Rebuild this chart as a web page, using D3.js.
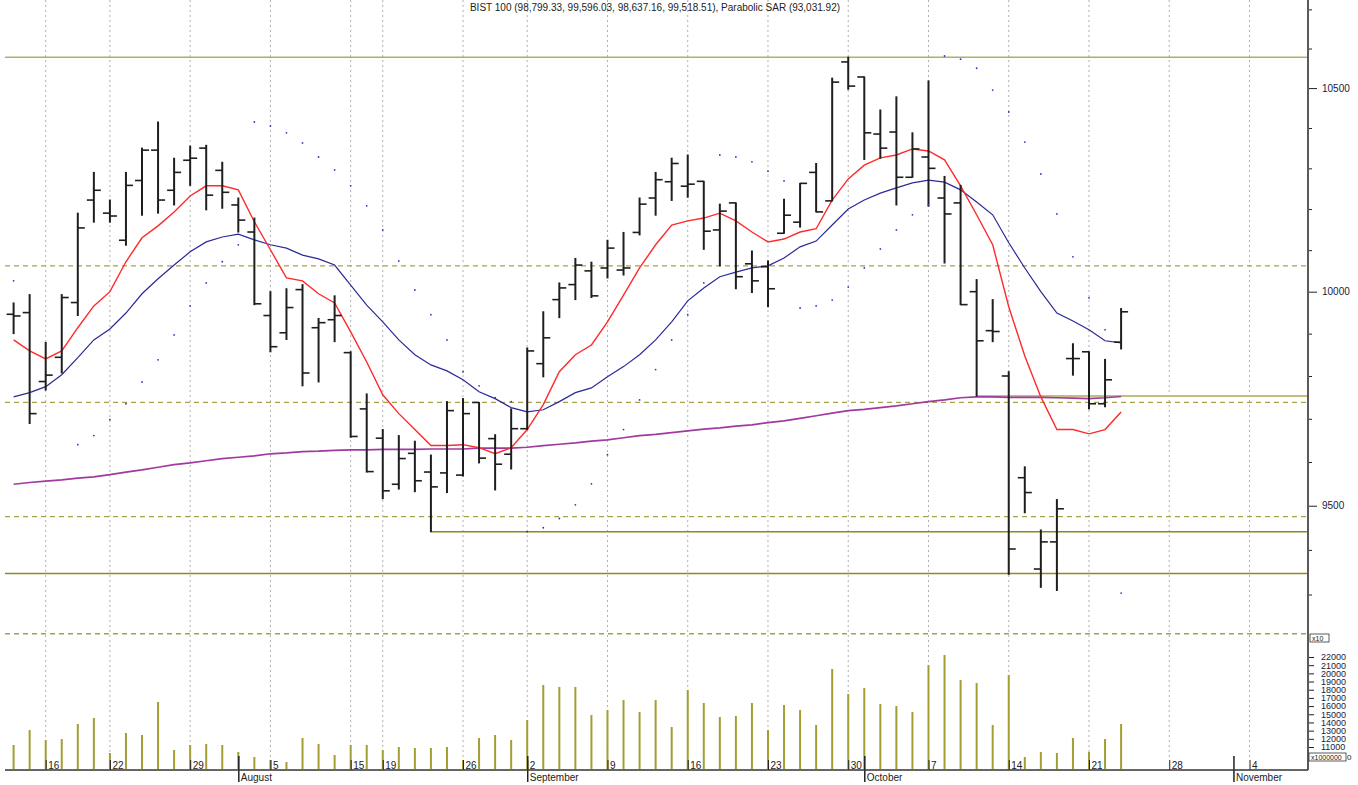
<!DOCTYPE html>
<html lang="en">
<head>
<meta charset="UTF-8">
<title>BIST 100</title>
<script src="https://d3js.org/d3.v7.min.js"></script>
<style>
    * { margin: 0; padding: 0; box-sizing: border-box; }
    html, body { width: 1358px; height: 785px; overflow: hidden; background: #fff; }
    svg { display: block; font-family: "Liberation Sans", Arial, sans-serif; }
</style>
</head>
<body>
<svg id="chart" width="1358" height="785"></svg>
<script>
// trading days (future days after Oct 23 have no bars)
const days = [
    "2019-07-11", "2019-07-12", "2019-07-16", "2019-07-17", "2019-07-18", "2019-07-19",
    "2019-07-22", "2019-07-23", "2019-07-24", "2019-07-25", "2019-07-26",
    "2019-07-29", "2019-07-30", "2019-07-31", "2019-08-01", "2019-08-02",
    "2019-08-05", "2019-08-06", "2019-08-07", "2019-08-08", "2019-08-09",
    "2019-08-15", "2019-08-16",
    "2019-08-19", "2019-08-20", "2019-08-21", "2019-08-22", "2019-08-23",
    "2019-08-26", "2019-08-27", "2019-08-28", "2019-08-29",
    "2019-09-02", "2019-09-03", "2019-09-04", "2019-09-05", "2019-09-06",
    "2019-09-09", "2019-09-10", "2019-09-11", "2019-09-12", "2019-09-13",
    "2019-09-16", "2019-09-17", "2019-09-18", "2019-09-19", "2019-09-20",
    "2019-09-23", "2019-09-24", "2019-09-25", "2019-09-26", "2019-09-27",
    "2019-09-30", "2019-10-01", "2019-10-02", "2019-10-03", "2019-10-04",
    "2019-10-07", "2019-10-08", "2019-10-09", "2019-10-10", "2019-10-11",
    "2019-10-14", "2019-10-15", "2019-10-16", "2019-10-17", "2019-10-18",
    "2019-10-21", "2019-10-22", "2019-10-23", "2019-10-24", "2019-10-25",
    "2019-10-28", "2019-10-29", "2019-10-30", "2019-10-31", "2019-11-01",
    "2019-11-04"
]
const barDays = days.slice(0, 70)

const opens = [9946, 9950, 9787, 9844, 9974, 10222, 10190, 10124, 10270, 10345,
    10246, 10320, 10350, 10295, 10210, 10144, 9943, 9902, 10005, 9914,
    9933, 9855, 9723, 9655, 9549, 9620, 9577, 9575, 9570, 9738,
    9654, 9618, 9677, 9829, 9981, 10017, 10050, 10057, 10052, 10143,
    10227, 10267, 10256, 10268, 10149, 10215, 10067, 10060, 10141, 10168,
    10290, 10220, 10566, 10528, 10385, 10390, 10278, 10328, 10227, 10215,
    10000, 9907, 9800, 9564, 9357, 9418, 9841, 9857, 9735, 9879.9]
const highs = [9973, 9993, 9879, 9993, 10190, 10290, 10222, 10290, 10350, 10415,
    10325, 10355, 10357, 10315, 10227, 10178, 10000, 10007, 10017, 9936,
    9990, 9857, 9758, 9675, 9661, 9648, 9616, 9740, 9747, 9738,
    9663, 9723, 9866, 9952, 10021, 10080, 10071, 10124, 10143, 10227,
    10290, 10325, 10333, 10268, 10212, 10215, 10098, 10074, 10224, 10263,
    10312, 10525, 10578, 10528, 10445, 10478, 10388, 10518, 10280, 10258,
    10029, 9981, 9810, 9589, 9445, 9514, 9876, 9857, 9839, 9959.6]
const lows = [9900, 9689, 9767, 9807, 9943, 10168, 10168, 10112, 10185, 10190,
    10210, 10258, 10198, 10202, 10144, 9969, 9857, 9886, 9777, 9786,
    9881, 9657, 9577, 9516, 9538, 9532, 9441, 9530, 9568, 9598,
    9536, 9584, 9675, 9798, 9938, 9981, 9986, 10033, 10040, 10137,
    10185, 10221, 10229, 10102, 10062, 10007, 9998, 9964, 10141, 10156,
    10193, 10220, 10497, 10322, 10325, 10210, 10278, 10207, 10069, 9969,
    9753, 9881, 9345, 9484, 9316, 9309, 9802, 9723, 9728, 9863.7]
const closes = [9942, 9712, 9802, 9986, 10154, 10246, 10183, 10258, 10345, 10222,
    10290, 10325, 10234, 10241, 10173, 9971, 9869, 9962, 9807, 9926,
    9943, 9659, 9578, 9534, 9608, 9557, 9543, 9719, 9712, 9609,
    9595, 9677, 9859, 9890, 10009, 10064, 9990, 10105, 10057, 10212,
    10272, 10312, 10261, 10146, 10195, 10036, 10026, 10007, 10185, 10263,
    10193, 10515, 10505, 10388, 10350, 10278, 10348, 10300, 10188, 9969,
    9883, 9905, 9402, 9530, 9418, 9493, 9841, 9735, 9791, 9951.9]

// moving averages
const maFast = [9885, 9859, 9840, 9859, 9914, 9966, 10000, 10072, 10130, 10159,
    10193, 10232, 10257, 10257, 10247, 10169, 10101, 10033, 10026, 9995,
    9973, 9904, 9833, 9756, 9712, 9675, 9638, 9638, 9640, 9633,
    9619, 9633, 9675, 9733, 9810, 9850, 9873, 9928, 9992, 10057,
    10113, 10161, 10171, 10178, 10190, 10171, 10144, 10120, 10127, 10144,
    10152, 10222, 10274, 10308, 10326, 10333, 10348, 10343, 10321, 10257,
    10186, 10113, 9964, 9847, 9751, 9675, 9675, 9665, 9675, 9716]
const maMid = [9751, 9761, 9775, 9803, 9843, 9885, 9911, 9949, 9995, 10031,
    10064, 10096, 10120, 10132, 10139, 10125, 10113, 10105, 10088, 10079,
    10064, 10016, 9968, 9928, 9885, 9850, 9826, 9812, 9791, 9763,
    9747, 9726, 9716, 9721, 9740, 9761, 9772, 9798, 9822, 9850,
    9885, 9928, 9978, 10009, 10036, 10047, 10057, 10062, 10081, 10108,
    10122, 10161, 10200, 10222, 10239, 10252, 10264, 10271, 10266, 10247,
    10217, 10186, 10118, 10057, 10000, 9949, 9930, 9909, 9883, 9878]
const maSlow = [9549, 9553, 9556, 9559, 9563, 9566, 9571, 9577, 9582, 9588,
    9594, 9598, 9603, 9608, 9611, 9614, 9619, 9621, 9624, 9625,
    9627, 9628, 9628, 9629, 9629, 9629, 9630, 9630, 9630, 9632,
    9632, 9632, 9634, 9638, 9641, 9644, 9648, 9651, 9656, 9661,
    9664, 9668, 9672, 9676, 9679, 9683, 9686, 9691, 9695, 9701,
    9707, 9713, 9719, 9722, 9726, 9730, 9735, 9740, 9744, 9749,
    9751, 9751, 9750, 9750, 9750, 9749, 9748, 9747, 9749, 9752]
const sar = [10026, null, null, null, 9640, 9661, 9698, 9735, 9786, 9838,
    9897, 9966, 10021, 10072, 10113, 10415, 10405, 10388, 10363, 10328,
    10296, 10257, 10208, 10149, 10074, 10004, 9945, 9885, 9810, 9777,
    9749, 9740, 9441, 9450, 9471, 9502, 9550, 9617, 9675, 9744,
    9815, 9885, 9945, 10021, 10333, 10328, 10316, 10293, 10269, 9961,
    9966, 9980, 10011, 10057, 10103, 10149, 10186, 10210, 10581, 10573,
    10550, 10495, 10440, 10365, 10286, 10188, 10084, 9985, 9909, 9303.2]

// volume, in units of the right lower axis
const volumes = [11244, 13078, 11856, 11978, 13811, 14544, 10266, 12711, 12467, 16500,
    10633, 11244, 11367, 11244, 10389, 9778, 9411, 9167, 12100, 11367,
    10022, 11244, 11244, 10633, 11000, 10878, 10878, 11000, 9411, 12100,
    12467, 11856, 14300, 18578, 18333, 18333, 14911, 15522, 16744, 15278,
    16744, 13444, 17967, 16378, 14667, 14789, 16378, 13078, 16133, 15522,
    13689, 20533, 17478, 18211, 16256, 16011, 15278, 21022, 22244, 19189,
    18822, 13689, 19800, 9778, 10389, 10266, 12100, 10389, 11978, 13811]

// horizontal lines drawn on the chart
const solidLevels = [10578, 9347, 9441]
const solidStarts = [null, null, "2019-08-22"]
const lightLevels = [9753]
const lightStarts = ["2019-10-10"]
const dashedLevels = [10062, 9738, 9475, 9213]

const weekTicks = ["2019-07-16", "2019-07-22", "2019-07-29", "2019-08-05", "2019-08-15",
    "2019-08-19", "2019-08-26", "2019-09-02", "2019-09-09", "2019-09-16", "2019-09-23",
    "2019-09-30", "2019-10-07", "2019-10-14", "2019-10-21", "2019-10-28", "2019-11-04"]
const monthTicks = ["2019-08-01", "2019-09-02", "2019-10-01", "2019-11-01"]
const monthNames = ["August", "September", "October", "November"]
const priceTicks = d3.range(9300, 10800, 100)
const volumeTicks = d3.range(11000, 23000, 1000)

const title = "BIST 100 (98,799.33, 99,596.03, 98,637.16, 99,518.51), Parabolic SAR (93,031.92)"

// layout
const left = 5, right = 1308
const priceTop = 0, priceBottom = 636, volBottom = 769, axisY = 770

const svg = d3.select("#chart")
const x = d3.scalePoint().domain(days).range([13.6, 1249.5])
const y = d3.scaleLog().domain([9208, 10724]).range([priceBottom, priceTop])
const yv = d3.scaleLinear().domain([11000, 22000]).range([747, 657])

const defs = svg.append("defs")
defs.append("clipPath").attr("id", "clipPrice").append("rect")
    .attr("x", left).attr("y", priceTop).attr("width", right - left).attr("height", priceBottom - priceTop)
defs.append("clipPath").attr("id", "clipVol").append("rect")
    .attr("x", left).attr("y", priceBottom).attr("width", right - left).attr("height", volBottom - priceBottom)

// vertical grid at week ticks
svg.append("g").selectAll("line")
    .data(weekTicks)
    .join("line")
    .attr("x1", d => x(d)).attr("x2", d => x(d))
    .attr("y1", 0).attr("y2", 760)
    .attr("stroke", "#b0b0b0")
    .attr("stroke-dasharray", "2,3")

const price = svg.append("g").attr("clip-path", "url(#clipPrice)")

// horizontal level lines
price.selectAll("line.dash")
    .data(dashedLevels)
    .join("line")
    .attr("class", "dash")
    .attr("x1", left).attr("x2", right)
    .attr("y1", d => y(d)).attr("y2", d => y(d))
    .attr("stroke", "#a6a24a").attr("stroke-width", 1.3)
    .attr("stroke-dasharray", "5,4")
price.selectAll("line.solid")
    .data(solidLevels)
    .join("line")
    .attr("class", "solid")
    .attr("x1", (d, i) => solidStarts[i] ? x(solidStarts[i]) : left)
    .attr("x2", right)
    .attr("y1", d => y(d)).attr("y2", d => y(d))
    .attr("stroke", (d, i) => i === 0 ? "#b3ae66" : "#8e8a1c")
    .attr("stroke-width", 1.5)
price.selectAll("line.light")
    .data(lightLevels)
    .join("line")
    .attr("class", "light")
    .attr("x1", (d, i) => x(lightStarts[i]))
    .attr("x2", right)
    .attr("y1", d => y(d)).attr("y2", d => y(d))
    .attr("stroke", "#c2bd80")
    .attr("stroke-width", 2)

// lines
const lineOf = d3.line()
    .x((d, i) => x(barDays[i]))
    .y(d => y(d))
price.append("path").datum(maSlow)
    .attr("d", lineOf)
    .attr("fill", "none").attr("stroke", "#a03aa0").attr("stroke-width", 1.7)
price.append("path").datum(maMid)
    .attr("d", lineOf)
    .attr("fill", "none").attr("stroke", "#2a2a98").attr("stroke-width", 1.2)
price.append("path").datum(maFast)
    .attr("d", lineOf)
    .attr("fill", "none").attr("stroke", "#ff2a2a").attr("stroke-width", 1.4)

// OHLC bars
const bars = barDays.map((d, i) => ({ d, o: opens[i], h: highs[i], l: lows[i], c: closes[i] }))
const barColor = "#1e1e1e"
price.selectAll("line.hl")
    .data(bars)
    .join("line")
    .attr("class", "hl")
    .attr("x1", d => x(d.d)).attr("x2", d => x(d.d))
    .attr("y1", d => y(d.h) - 0.5).attr("y2", d => y(d.l) + 0.5)
    .attr("stroke", barColor).attr("stroke-width", 2)
price.selectAll("line.op")
    .data(bars)
    .join("line")
    .attr("class", "op")
    .attr("x1", d => x(d.d) - 7).attr("x2", d => x(d.d))
    .attr("y1", d => y(d.o)).attr("y2", d => y(d.o))
    .attr("stroke", barColor).attr("stroke-width", 1.6)
price.selectAll("line.cl")
    .data(bars)
    .join("line")
    .attr("class", "cl")
    .attr("x1", d => x(d.d)).attr("x2", d => x(d.d) + 7)
    .attr("y1", d => y(d.c)).attr("y2", d => y(d.c))
    .attr("stroke", barColor).attr("stroke-width", 1.6)

// parabolic SAR
price.selectAll("circle.sar")
    .data(sar.map((v, i) => ({ v, d: barDays[i] })).filter(p => p.v !== null))
    .join("circle")
    .attr("class", "sar")
    .attr("cx", p => x(p.d)).attr("cy", p => y(p.v))
    .attr("r", 0.9)
    .attr("fill", "#3434c8")

// volume
const vol = svg.append("g").attr("clip-path", "url(#clipVol)")
vol.selectAll("line")
    .data(volumes)
    .join("line")
    .attr("x1", (v, i) => x(barDays[i])).attr("x2", (v, i) => x(barDays[i]))
    .attr("y1", volBottom).attr("y2", v => yv(v))
    .attr("stroke", "#a29e34").attr("stroke-width", 2)

// title
svg.append("text")
    .attr("x", 655).attr("y", 11)
    .attr("text-anchor", "middle")
    .attr("font-size", 10)
    .attr("fill", "#222")
    .text(title)

// right price axis
const pAxis = svg.append("g")
    .attr("transform", `translate(${right},0)`)
    .call(d3.axisRight(y).tickValues(priceTicks).tickFormat(d => d % 500 === 0 ? d : "").tickSizeOuter(0))
pAxis.select(".domain").remove()
pAxis.selectAll(".tick line")
    .attr("x2", d => d % 500 === 0 ? 9 : 4)
    .attr("stroke", "#222")
pAxis.selectAll(".tick text")
    .attr("x", 14)
    .attr("font-size", 10)
    .attr("font-family", "Liberation Sans, Arial, sans-serif")
    .attr("fill", "#1a1a3a")

// right volume axis
const vAxis = svg.append("g")
    .attr("transform", `translate(${right},0)`)
    .call(d3.axisRight(yv).tickValues(volumeTicks).tickFormat(d3.format("d")).tickSize(6))
vAxis.select(".domain").remove()
vAxis.selectAll(".tick line").attr("stroke", "#222")
vAxis.selectAll(".tick text")
    .attr("x", 13)
    .attr("font-size", 9)
    .attr("font-family", "Liberation Sans, Arial, sans-serif")
    .attr("fill", "#1a1a3a")

// axis spine
svg.append("line")
    .attr("x1", right).attr("x2", right)
    .attr("y1", 0).attr("y2", axisY)
    .attr("stroke", "#5a5a5a").attr("stroke-width", 2)

// unit boxes on the volume axis
const unitBox = (bx, by, w, label) => {
    svg.append("rect").attr("x", bx).attr("y", by).attr("width", w).attr("height", 8)
        .attr("fill", "#fff").attr("stroke", "#333").attr("stroke-width", 0.8)
    svg.append("text").attr("x", bx + 2).attr("y", by + 7)
        .attr("font-size", 7).attr("fill", "#222").text(label)
}
unitBox(1310, 634, 19, "x10")
unitBox(1309, 753, 37, "x1000000")
svg.append("text").attr("x", 1347).attr("y", 760).attr("font-size", 8).attr("fill", "#222").text("0")

// bottom date axis
const wAxis = svg.append("g")
    .attr("transform", `translate(0,${axisY})`)
    .call(d3.axisBottom(x).tickValues(weekTicks).tickFormat(d => +d.slice(8)).tickSizeInner(-10).tickSizeOuter(0))
wAxis.select(".domain").remove()
wAxis.selectAll(".tick line").attr("stroke", "#222")
wAxis.selectAll(".tick text")
    .attr("y", -5).attr("x", 2).attr("dy", "0.35em")
    .attr("text-anchor", "start")
    .attr("font-size", 10)
    .attr("font-family", "Liberation Sans, Arial, sans-serif")
    .attr("fill", "#222")

const mAxis = svg.append("g")
    .attr("transform", `translate(0,${axisY})`)
    .call(d3.axisBottom(x).tickValues(monthTicks).tickFormat((d, i) => monthNames[i]).tickSizeInner(12).tickSizeOuter(0))
mAxis.select(".domain").remove()
mAxis.selectAll(".tick line").attr("y1", -14).attr("stroke", "#222").attr("stroke-width", 1.5)
mAxis.selectAll(".tick text")
    .attr("y", 7).attr("x", 2).attr("dy", "0.35em")
    .attr("text-anchor", "start")
    .attr("font-size", 10)
    .attr("font-family", "Liberation Sans, Arial, sans-serif")
    .attr("fill", "#222")

svg.append("line")
    .attr("x1", left).attr("x2", right)
    .attr("y1", axisY).attr("y2", axisY)
    .attr("stroke", "#333").attr("stroke-width", 1.5)
</script>
</body>
</html>
